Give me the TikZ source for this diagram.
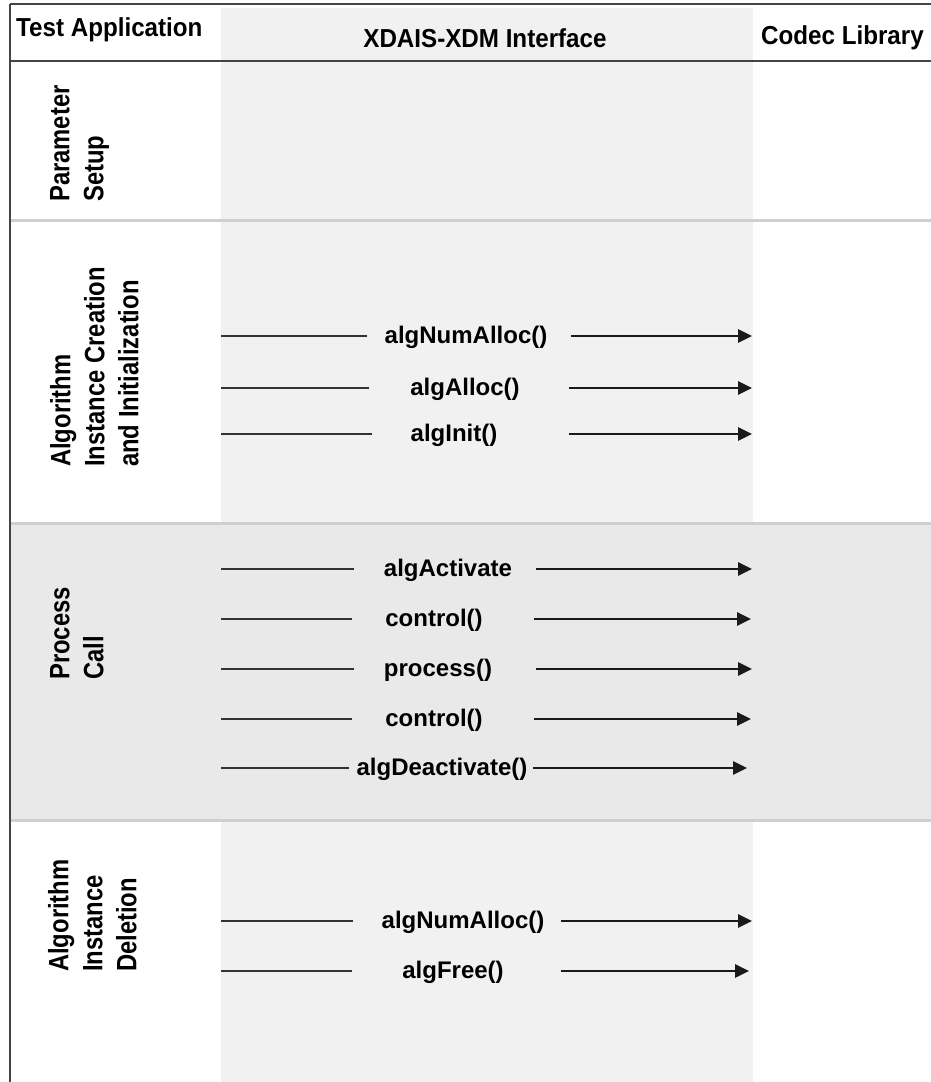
\documentclass[tikz,border=0pt]{standalone}
\usepackage{fontspec}
\setmainfont{Liberation Sans}
\newfontfamily\hdrfont{Liberation Sans}[FakeStretch=0.93]
\newfontfamily\sidefont{Liberation Sans}[FakeStretch=0.85]
\newfontfamily\callfont{Liberation Sans}
\usetikzlibrary{arrows.meta}
\definecolor{colgray}{HTML}{F1F1F1}
\definecolor{rowgray}{HTML}{E9E9E9}
\definecolor{sepgray}{HTML}{CFCFCF}
\definecolor{rulegray}{HTML}{444444}
\definecolor{linkgray}{HTML}{333333}
\definecolor{arrowdark}{HTML}{1A1A1A}
\tikzset{
  header/.style={font=\hdrfont\bfseries\fontsize{26}{30}\selectfont, inner sep=0pt, anchor=base},
  sidelabel/.style={font=\sidefont\bfseries\fontsize{28}{34}\selectfont, rotate=90,
    align=left, anchor=north west, inner sep=0pt},
  calllabel/.style={font=\callfont\bfseries\fontsize{24}{28}\selectfont, inner sep=0pt, anchor=base},
  feed/.style={draw=linkgray, line width=2.7pt},
  call/.style={draw=arrowdark, line width=2.9pt, -{Triangle[length=14pt,width=13pt]}},
  rowsep/.style={draw=sepgray, line width=3pt},
  frame/.style={draw=rulegray, line width=2.4pt}
}
\begin{document}
\begin{tikzpicture}[x=1pt,y=-1pt]
\useasboundingbox (0,0) rectangle (931,1082);
\fill[white] (0,0) rectangle (931,1082);
% interface column and the process-call band
\fill[colgray] (221,8) rectangle (753,1082);
\fill[rowgray] (10,523) rectangle (931,820);
% row separators
\draw[rowsep] (10,220) -- (931,220);
\draw[rowsep] (10,523) -- (931,523);
\draw[rowsep] (10,820) -- (931,820);
% outer frame and header rule
\draw[frame] (10,4) -- (931,4);
\draw[frame] (10,61) -- (931,61);
\draw[frame] (10,4) -- (10,1082);
% column headers
\node[header, anchor=base west] (hTest) at (16,36) {Test Application};
\node[header] (hXdm) at (485,47) {XDAIS-XDM Interface};
\node[header, anchor=base west] (hCodec) at (761,44) {Codec Library};
% phase labels
\node[sidelabel] (pSetup) at (50,202) {Parameter\\Setup};
\node[sidelabel] (pCreate) at (50,467) {Algorithm\\Instance Creation\\and Initialization};
\node[sidelabel] (pProc) at (50,680) {Process\\Call};
\node[sidelabel] (pDel) at (48,972) {Algorithm\\Instance\\Deletion};
% calls from the application through the interface to the codec
\foreach \i/\y/\le/\lx/\rs/\re/\t in {
  1/336/367/466/571/752/algNumAlloc(),
  2/388/369/465/569/752/algAlloc(),
  3/434/372/454/569/752/algInit(),
  4/569/354/448/536/752/algActivate,
  5/619/352/434/534/751/control(),
  6/669/354/438/536/752/process(),
  7/719/352/434/534/751/control(),
  8/768/349/442/533/747/algDeactivate(),
  9/921/353/463/561/752/algNumAlloc(),
  10/971/352/453/561/749/algFree()}{
  \coordinate (src\i) at (221,\y);
  \coordinate (gapL\i) at (\le,\y);
  \coordinate (gapR\i) at (\rs,\y);
  \coordinate (dst\i) at (\re,\y);
  \node[calllabel] (call\i) at (\lx,\y+7.5) {\t};
  \draw[feed] (src\i) -- (gapL\i);
  \draw[call] (gapR\i) -- (dst\i);
}
\end{tikzpicture}
\end{document}
